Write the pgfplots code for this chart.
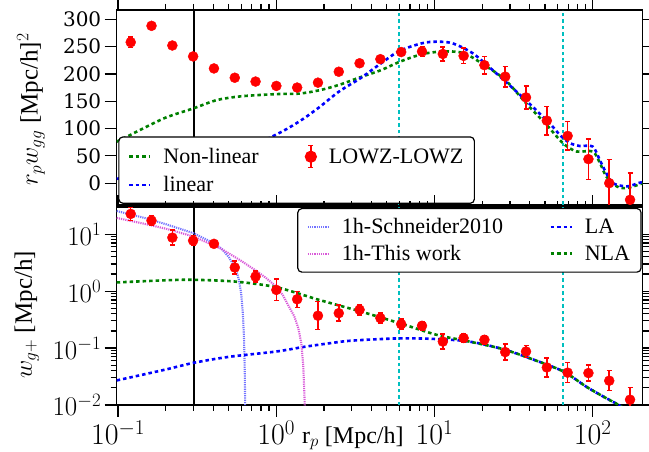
\RequirePackage{fix-cm}
\documentclass[border=0pt]{standalone}
\usepackage{fontspec}
\setmainfont{Liberation Serif}
\newfontfamily\tickfont{DejaVu Serif}
\usepackage{pgfplots}
\pgfplotsset{compat=1.18}
\usepackage{pgfplotstable}

\definecolor{mgreen}{rgb}{0,0.5,0}
\definecolor{mblue}{rgb}{0,0,1}
\definecolor{mcyan}{rgb}{0,0.75,0.75}
\definecolor{schn}{rgb}{0.45,0.45,1}
\definecolor{thisw}{rgb}{0.85,0.35,0.85}

\newcommand{\bigf}{\fontsize{22}{26}\selectfont}
\newcommand{\labf}{\fontsize{25}{29}\selectfont}

\pgfplotstableread{
x y e
0.1202 258 10
0.1627 288 6
0.2203 252 5
0.2981 232 5
0.4036 210 4
0.5464 193 4
0.7396 186 4
1.001 178 4
1.355 175 4
1.834 184 4
2.483 204 4
3.361 219.5 4
4.550 227 5
6.160 240 6
8.337 241 9
11.29 236.5 13
15.28 233 14
20.68 216 16
27.99 195 19
37.89 157 21
51.29 114.5 26
69.42 86.5 26
93.97 44 37
127.2 0 43
172.2 -30.5 49
}\wggdata

\pgfplotstableread{
x y ep em
0.1202 22.7 7.0 5.4
0.1627 17.3 3.9 3.2
0.2203 8.7 3.1 2.3
0.2981 7.7 1.7 1.4
0.4036 6.77 0.88 0.78
0.5464 2.6 0.81 0.61
0.7396 1.8 0.45 0.36
1.001 1.05 0.58 0.37
1.355 0.72 0.27 0.20
1.834 0.37 0.29 0.16
2.483 0.41 0.156 0.113
3.361 0.47 0.105 0.086
4.550 0.336 0.075 0.061
6.160 0.263 0.059 0.048
8.337 0.246 0.043 0.037
11.29 0.13 0.046 0.034
15.28 0.15 0.026 0.022
20.68 0.14 0.025 0.021
27.99 0.085 0.032 0.023
37.89 0.087 0.024 0.019
51.29 0.0457 0.0214 0.0146
69.42 0.037 0.0184 0.0123
93.97 0.0364 0.0138 0.010
127.2 0.0267 0.0133 0.0089
172.2 0.0124 0.0077 0.0047
}\wgpdata

\tikzset{
  thickdash/.style={line width=2.6pt, dash pattern=on 3.5pt off 3pt},
  thindot/.style={line width=2.1pt, dash pattern=on 1.2pt off 1pt},
  vcyan/.style={mcyan, line width=2pt, dash pattern=on 3.5pt off 3pt},
}

\begin{document}
\begin{tikzpicture}
\path[use as bounding box] (0,0) rectangle (649pt,-452pt);

% ---------------- top panel ----------------
\begin{axis}[
  scale only axis, width=526pt, height=195pt,
  at={(116.7pt,-205pt)}, anchor=south west,
  xmode=log, xmin=0.098, xmax=207,
  ymin=-40, ymax=317,
  tick align=outside,
  axis line style={line width=1.3pt},
  every tick/.style={line width=1.2pt, black},
  major tick length=12pt, minor tick length=6pt,
  xtick pos=right, xticklabel=\empty,
  ytick={0,50,100,150,200,250,300}, ytick pos=both,
  /pgf/number format/assume math mode=true,
  yticklabel style={font=\tickfont\fontsize{20}{24}\selectfont},
  ylabel={$r_p w_{gg}$ [Mpc/h]$^2$},
  ylabel style={font=\labf, at={(axis description cs:-0.163,0.49)}, anchor=center},
  legend columns=2,
  legend cell align=left,
  legend image code/.code={\draw[#1] (0pt,0pt) -- (21pt,0pt);},
  legend style={at={(axis description cs:0.003,0.006)}, anchor=south west,
    font=\bigf, rounded corners=4pt, line width=1.2pt, draw=black, fill=white,
    inner xsep=9pt, inner ysep=8pt, row sep=6pt,
    /tikz/every even column/.append style={column sep=44pt},
    /tikz/every odd column/.append style={column sep=10pt}},
]
\addlegendimage{mgreen, thickdash}
\addlegendentry{Non-linear}
\addlegendimage{legend image code/.code={
  \draw[red, line width=1.5pt] (11pt,-11pt) -- (11pt,11pt);
  \draw[red, line width=1.5pt] (8.5pt,-11pt) -- (13.5pt,-11pt);
  \draw[red, line width=1.5pt] (8.5pt,11pt) -- (13.5pt,11pt);
  \fill[red] (11pt,0pt) circle (5.5pt);}}
\addlegendentry{LOWZ-LOWZ}
\addlegendimage{mblue, thickdash}
\addlegendentry{linear}

\addplot[black, line width=1.9pt, forget plot] coordinates {(0.3,-40) (0.3,317)};
\addplot[vcyan, forget plot] coordinates {(6,-40) (6,317)};
\addplot[vcyan, forget plot] coordinates {(65,-40) (65,317)};

\addplot[mgreen, thickdash, smooth, forget plot] coordinates {
(0.098,76) (0.119,88) (0.137,97) (0.2,120) (0.3,137) (0.42,152) (0.6,159)
(1.0,163) (1.4,164) (1.87,170) (2.5,180) (3.4,194) (4.6,207) (6,222)
(8.3,236) (11.3,241) (15.3,238) (20.7,216) (28,189) (38,146) (51,107)
(65,73) (79,58) (100,58) (111,37) (122,12) (142,-6) (164,-9) (194,-3) (207,0)};

\addplot[mblue, thickdash, smooth, forget plot] coordinates {
(0.098,8) (0.2,22) (0.4,42) (0.7,68) (1.08,94) (1.45,116) (1.87,139)
(2.5,168) (3.4,192) (4.6,219.5) (6,242) (8.3,256) (10.3,259) (13,256)
(17.4,238) (23.3,207) (31.2,174) (41.7,140) (55.8,103.5) (62,88) (72,73)
(83,68) (100,67) (111,42) (122,18) (134,0) (164,-6) (194,0) (207,2)};

\addplot[red, only marks, mark=*, mark size=5pt, forget plot,
  error bars/.cd, y dir=both, y explicit,
  error bar style={red, line width=1.5pt},
  error mark options={red, line width=1.5pt, mark size=2.5pt, rotate=90}]
  table[x=x, y=y, y error=e] {\wggdata};
\end{axis}

% ---------------- bottom panel ----------------
\begin{axis}[
  scale only axis, width=526pt, height=198pt,
  at={(116.7pt,-405pt)}, anchor=south west,
  xmode=log, xmin=0.098, xmax=207,
  ymode=log, ymin=0.01, ymax=30,
  tick align=outside,
  axis line style={line width=1.3pt},
  every tick/.style={line width=1.2pt, black},
  major tick length=12pt, minor tick length=6pt,
  xtick pos=both, ytick pos=both,
  xticklabel style={font=\fontsize{30}{34}\selectfont},
  yticklabel style={font=\fontsize{27}{31}\selectfont},
  ylabel={$w_{g+}$ [Mpc/h]},
  ylabel style={font=\labf, at={(axis description cs:-0.171,0.455)}, anchor=center},
  xlabel={r$_p$ [Mpc/h]},
  xlabel style={font=\fontsize{24}{28}\selectfont, at={(axis description cs:0.449,0)}, anchor=base, yshift=-38pt},
  legend columns=2,
  legend cell align=left,
  legend image code/.code={\draw[#1] (0pt,0pt) -- (21pt,0pt);},
  legend style={at={(axis description cs:0.998,0.995)}, anchor=north east,
    font=\bigf, rounded corners=4pt, line width=1.2pt, draw=black, fill=white,
    inner xsep=9pt, inner ysep=8pt, row sep=6pt,
    /tikz/every even column/.append style={column sep=44pt},
    /tikz/every odd column/.append style={column sep=10pt}},
]
\addplot[black, line width=1.9pt, forget plot] coordinates {(0.3,0.01) (0.3,30)};
\addplot[vcyan, forget plot] coordinates {(6,0.01) (6,30)};
\addplot[vcyan, forget plot] coordinates {(65,0.01) (65,30)};

\addplot[schn, thindot] coordinates {
(0.098,25.5) (0.15,19) (0.2,15) (0.3,10.4) (0.4,7.0) (0.45,5.6) (0.5,4.0)
(0.55,2.6) (0.58,1.6) (0.6,0.9) (0.615,0.4) (0.625,0.15) (0.632,0.04) (0.636,0.009)};
\addlegendentry{1h-Schneider2010}

\addplot[mblue, thickdash, smooth] coordinates {
(0.098,0.027) (0.2,0.042) (0.3,0.055) (0.5,0.07) (1.0,0.087) (1.5,0.105)
(2.2,0.122) (3,0.135) (6,0.148) (10.3,0.144) (16.6,0.13) (27,0.096)
(42,0.063) (65,0.039) (91,0.021) (117,0.014) (146,0.01) (170,0.0075)};
\addlegendentry{LA}

\addplot[thisw, thindot] coordinates {
(0.098,19.3) (0.15,15) (0.2,12.5) (0.3,9.1) (0.45,5.5) (0.6,3.4) (0.73,2.37)
(0.85,1.75) (1.0,1.2) (1.1,0.85) (1.2,0.54) (1.3,0.36) (1.38,0.22)
(1.44,0.12) (1.48,0.05) (1.5,0.02) (1.515,0.009)};
\addlegendentry{1h-This work}

\addplot[mgreen, thickdash, smooth] coordinates {
(0.098,1.42) (0.2,1.55) (0.3,1.58) (0.55,1.47) (1.0,1.17) (1.87,0.70)
(3.4,0.44) (6,0.274) (10.3,0.171) (16.6,0.13) (27,0.096) (42,0.063)
(65,0.039) (91,0.021) (117,0.014) (146,0.01) (170,0.0075)};
\addlegendentry{NLA}

\addplot[red, only marks, mark=*, mark size=5pt, forget plot,
  error bars/.cd, y dir=both, y explicit,
  error bar style={red, line width=1.5pt},
  error mark options={red, line width=1.5pt, mark size=2.5pt, rotate=90}]
  table[x=x, y=y, y error plus=ep, y error minus=em] {\wgpdata};
\end{axis}
\end{tikzpicture}
\end{document}
